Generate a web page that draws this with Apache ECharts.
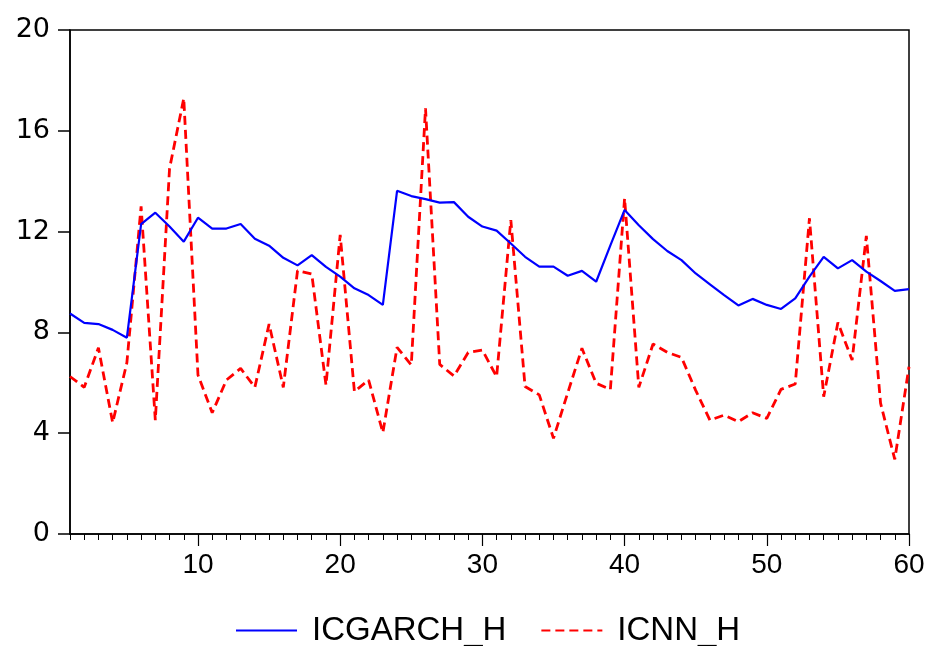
<!DOCTYPE html>
<html>
<head>
<meta charset="utf-8">
<script src="https://cdn.jsdelivr.net/npm/echarts@6/dist/echarts.min.js"></script>
<style>html,body{margin:0;padding:0;background:#fff}#c{width:930px;height:646px}</style>
</head>
<body>
<div id="c"></div>
<script>
var categories = [];
for (var i = 1; i <= 60; i++) categories.push(String(i));

var icgarch = [8.75, 8.38, 8.33, 8.10, 7.79, 12.30, 12.75, 12.2, 11.6, 12.55,
  12.12, 12.12, 12.30, 11.72, 11.44, 10.96, 10.66, 11.07, 10.60, 10.21,
  9.75, 9.48, 9.09, 13.62, 13.41, 13.29, 13.15, 13.17, 12.59, 12.20,
  12.04, 11.53, 11.00, 10.61, 10.61, 10.25, 10.44, 10.01, 11.45, 12.86,
  12.25, 11.70, 11.23, 10.87, 10.34, 9.91, 9.48, 9.07, 9.33, 9.09,
  8.93, 9.35, 10.21, 11.00, 10.54, 10.87, 10.41, 10.04, 9.65, 9.72];

var icnn = [6.25, 5.82, 7.39, 4.42, 6.80, 13.0, 4.52, 14.5, 17.29, 6.31,
  4.81, 6.11, 6.57, 5.82, 8.33, 5.82, 10.45, 10.32, 5.91, 11.87,
  5.65, 6.11, 4.02, 7.41, 6.71, 16.89, 6.73, 6.27, 7.20, 7.30,
  6.24, 12.46, 5.85, 5.52, 3.80, 5.60, 7.37, 5.98, 5.74, 13.32,
  5.82, 7.54, 7.21, 7.01, 5.70, 4.52, 4.72, 4.46, 4.81, 4.59,
  5.74, 5.95, 12.53, 5.45, 8.39, 6.90, 11.83, 5.19, 2.96, 6.64];

var yTicks = [0, 4, 8, 12, 16, 20];
var seriesNames = ['ICGARCH_H', 'ICNN_H'];

var chart = echarts.init(document.getElementById('c'), null, {renderer: 'canvas'});
var sans = '"Liberation Sans", Arial, sans-serif';
chart.setOption({
  animation: false,
  backgroundColor: '#fff',
  grid: {left: 70, right: 21, top: 30, bottom: 112, show: true, borderColor: '#000', borderWidth: 1.5, backgroundColor: 'transparent'},
  legend: {
    data: seriesNames,
    top: 614,
    left: 235,
    padding: 0,
    itemWidth: 61,
    itemHeight: 31,
    itemGap: 34,
    itemStyle: {opacity: 0},
    textStyle: {fontFamily: sans, fontSize: 33, lineHeight: 31, color: '#000', padding: [0, 0, 0, 10]}
  },
  xAxis: [{
    type: 'category',
    data: categories,
    boundaryGap: false,
    axisLine: {lineStyle: {color: '#000', width: 1.5}},
    axisTick: {show: true, interval: 0, length: 6, lineStyle: {color: '#000', width: 1}},
    axisLabel: {
      interval: function (idx, val) { return (Number(val) % 10) === 0; },
      color: '#000', fontFamily: sans, fontSize: 28, margin: 17
    },
    splitLine: {show: false}
  }, {
    type: 'category',
    data: categories,
    boundaryGap: false,
    position: 'bottom',
    axisLine: {show: false},
    axisTick: {show: true, interval: function (idx, val) { return (Number(val) % 10) === 0; }, length: 12, lineStyle: {color: '#000', width: 1.2}},
    axisLabel: {show: false},
    splitLine: {show: false}
  }],
  yAxis: {
    type: 'value',
    min: yTicks[0],
    max: yTicks[yTicks.length - 1],
    interval: 4,
    axisLine: {show: true, lineStyle: {color: '#000', width: 1.5}},
    axisTick: {show: true, length: 12, lineStyle: {color: '#000', width: 1.5}},
    axisLabel: {color: '#000', fontFamily: '"DejaVu Sans", sans-serif', fontSize: 27, margin: 20},
    splitLine: {show: false}
  },
  series: [{
    name: seriesNames[0],
    type: 'line',
    data: icgarch,
    symbol: 'none',
    color: '#0000FF',
    lineStyle: {color: '#0000FF', width: 2.2},
    z: 3
  }, {
    name: seriesNames[1],
    type: 'line',
    data: icnn,
    symbol: 'none',
    color: '#FF0000',
    lineStyle: {color: '#FF0000', width: 2.8, type: [9, 5]},
    z: 2
  }]
});
</script>
</body>
</html>
